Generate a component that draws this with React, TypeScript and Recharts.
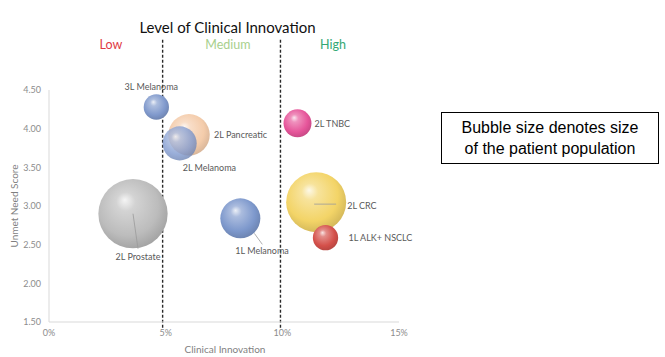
import { ReferenceLine, Scatter, ScatterChart, XAxis, YAxis, ZAxis } from "recharts";

// indications plotted on the innovation / unmet need map
const indications = [
  "2L Prostate",
  "3L Melanoma",
  "2L Pancreatic",
  "2L Melanoma",
  "1L Melanoma",
  "2L TNBC",
  "2L CRC",
  "1L ALK+ NSCLC"
];
const clinicalInnovation = [3.6, 4.6, 6.0, 5.6, 8.2, 10.65, 11.45, 11.85];
const unmetNeed = [2.9, 4.28, 3.92, 3.81, 2.84, 4.07, 3.05, 2.59];
// relative patient population (bubble area)
const population = [1200, 160, 430, 290, 400, 195, 900, 160];

const xTicks = [0, 5, 10, 15];
const yTicks = [1.5, 2, 2.5, 3, 3.5, 4, 4.5];
const innovationBands = ["Low", "Medium", "High"];
const bandBoundaries = [4.87, 9.92];

const bubbleColors = ["#bcbcbc", "#8099cc", "#f2c39c", "#7f99cf", "#7d98cc", "#e6559a", "#f3d467", "#d4504a"];
const bubbleOpacity = [1, 1, 0.85, 0.8, 1, 1, 1, 1];
const bandColors = ["#e03a44", "#a8d08d", "#33a874"];

// label placement relative to bubble centre
const labelPlacement: Record<string, { dx: number; dy: number; anchor: "start" | "middle"; line?: number[] }> = {
  "2L Prostate": { dx: 5, dy: 43, anchor: "middle", line: [0, 0, 5, 35] },
  "3L Melanoma": { dx: -5, dy: -21, anchor: "middle" },
  "2L Pancreatic": { dx: 25, dy: 0, anchor: "start" },
  "2L Melanoma": { dx: 3, dy: 24, anchor: "start" },
  "1L Melanoma": { dx: -5, dy: 32, anchor: "start", line: [14, 15, 22, 26] },
  "2L TNBC": { dx: 17, dy: 0, anchor: "start" },
  "2L CRC": { dx: 31, dy: 3, anchor: "start", line: [-2, 2, 20, 2] },
  "1L ALK+ NSCLC": { dx: 23, dy: 0, anchor: "start" }
};

const bubbles = indications.map((name, i) => ({
  name,
  x: clinicalInnovation[i],
  y: unmetNeed[i],
  z: population[i],
  color: bubbleColors[i],
  opacity: bubbleOpacity[i]
}));

const font = "Lato, 'Open Sans', sans-serif";

function mix(hex: string, target: number, amount: number) {
  const n = parseInt(hex.slice(1), 16);
  const ch = [(n >> 16) & 255, (n >> 8) & 255, n & 255].map((c) => Math.round(c + (target - c) * amount));
  return `rgb(${ch.join(",")})`;
}

const Bubble = (props: any) => {
  const { cx, cy, width, payload, index } = props;
  const r = width / 2;
  const id = `bubble-${index}`;
  return (
    <g opacity={payload.opacity}>
      <defs>
        <radialGradient id={id} cx="0.45" cy="0.42" r="0.62" fx="0.38" fy="0.3">
          <stop offset="0%" stopColor={mix(payload.color, 255, 0.85)} />
          <stop offset="22%" stopColor={mix(payload.color, 255, 0.35)} />
          <stop offset="70%" stopColor={payload.color} />
          <stop offset="100%" stopColor={mix(payload.color, 0, 0.15)} />
        </radialGradient>
      </defs>
      <circle cx={cx} cy={cy} r={r} fill={`url(#${id})`} />
    </g>
  );
};

const BubbleLabel = (props: any) => {
  const { cx, cy, payload } = props;
  const p = labelPlacement[payload.name];
  return (
    <g>
      {p.line && (
        <line
          x1={cx + p.line[0]}
          y1={cy + p.line[1]}
          x2={cx + p.line[2]}
          y2={cy + p.line[3]}
          stroke="#9a9a9a"
          strokeWidth={0.8}
        />
      )}
      <text
        x={cx + p.dx}
        y={cy + p.dy}
        textAnchor={p.anchor}
        dominantBaseline="central"
        fontFamily={font}
        fontSize={9}
        fill="#595959"
      >
        {payload.name}
      </text>
    </g>
  );
};

const bandCenters = [111, 228, 333];

export default function App() {
  return (
    <div style={{ position: "absolute", left: 0, top: 0, width: 665, height: 357, background: "#fff" }}>
      <div
        style={{
          position: "absolute",
          left: 0,
          width: 455,
          top: 18,
          textAlign: "center",
          fontFamily: font,
          fontSize: 15,
          color: "#111"
        }}
      >
        Level of Clinical Innovation
      </div>
      {innovationBands.map((b, i) => (
        <div
          key={b}
          style={{
            position: "absolute",
            left: bandCenters[i] - 40,
            width: 80,
            top: 37,
            textAlign: "center",
            fontFamily: font,
            fontSize: 12.5,
            color: bandColors[i]
          }}
        >
          {b}
        </div>
      ))}
      <div
        style={{
          position: "absolute",
          left: -46,
          top: 200,
          width: 120,
          textAlign: "center",
          transform: "rotate(-90deg)",
          fontFamily: font,
          fontSize: 10,
          color: "#7f7f7f"
        }}
      >
        Unmet Need Score
      </div>
      <div
        style={{
          position: "absolute",
          left: 165,
          width: 120,
          top: 343,
          textAlign: "center",
          fontFamily: font,
          fontSize: 10,
          color: "#7f7f7f"
        }}
      >
        Clinical Innovation
      </div>
      <div
        style={{
          position: "absolute",
          left: 441,
          top: 112,
          width: 216,
          height: 50,
          border: "1px solid #000",
          display: "flex",
          alignItems: "center",
          justifyContent: "center",
          textAlign: "center",
          fontFamily: "'Liberation Sans', Arial, sans-serif",
          fontSize: 16,
          lineHeight: "21px",
          color: "#000"
        }}
      >
        Bubble size denotes size
        <br />
        of the patient population
      </div>
      <div style={{ position: "absolute", left: 0, top: 0 }}>
        <ScatterChart width={665} height={357} margin={{ top: 90, right: 266, bottom: 0, left: 0 }}>
          <XAxis
            type="number"
            dataKey="x"
            domain={[0, 15]}
            ticks={xTicks}
            tickFormatter={(v) => `${v}%`}
            height={35}
            tickLine={false}
            axisLine={{ stroke: "#d9d9d9" }}
            tick={{ fontSize: 9, fill: "#8c8c8c", fontFamily: font }}
          />
          <YAxis
            type="number"
            dataKey="y"
            domain={[1.5, 4.5]}
            ticks={yTicks}
            tickFormatter={(v) => v.toFixed(2)}
            width={49}
            tickLine={false}
            axisLine={{ stroke: "#d9d9d9" }}
            tick={{ fontSize: 9, fill: "#8c8c8c", fontFamily: font }}
          />
          <ZAxis type="number" dataKey="z" domain={[0, 1200]} range={[0, 1200 * Math.PI]} />
          <Scatter data={bubbles} shape={<Bubble />} isAnimationActive={false} />
          {bandBoundaries.map((b) => (
            <ReferenceLine
              key={b}
              segment={[
                { x: b, y: 5.15 },
                { x: b, y: 1.4 }
              ]}
              ifOverflow="visible"
              stroke="#2a2a2a"
              strokeWidth={1.4}
              strokeDasharray="3 2"
            />
          ))}
          <Scatter data={bubbles} shape={<BubbleLabel />} isAnimationActive={false} />
        </ScatterChart>
      </div>
    </div>
  );
}
